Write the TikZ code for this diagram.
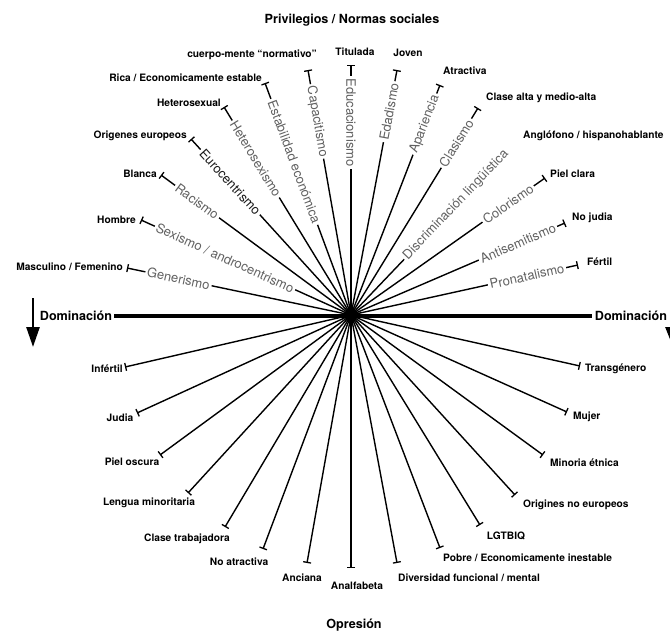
\documentclass[tikz,border=0pt]{standalone}
\usepackage{fontspec}
\setmainfont{TeX Gyre Heros}
\usetikzlibrary{arrows.meta}
\tikzset{
  spoke/.style={line width=1.4pt, black, -{Bar[width=8pt,line width=1.3pt]}},
  plainspoke/.style={line width=1.4pt, black},
  spoketext/.style={fill=white, inner sep=2pt, text=black!62, font=\fontsize{13}{14}\selectfont},
  lab/.style={inner sep=0pt, font=\bfseries\fontsize{10.2}{12}\selectfont},
  big/.style={inner sep=3pt, font=\bfseries\fontsize{12.6}{14}\selectfont},
}
\begin{document}
\begin{tikzpicture}[x=1pt,y=-1pt]
\useasboundingbox (0,0) rectangle (670,634);
\coordinate (c) at (351,315);
% titles
\node[big] (title) at (352,20) {Privilegios / Normas sociales};
\node[big] (opr) at (354,625) {Opresión};
\node[big, inner sep=2pt] (domL) at (76,316) {Dominación};
\node[big, inner sep=3pt] (domR) at (631,316) {Dominación};
\draw[line width=4pt] (domL) -- (domR);
\coordinate (aL1) at (33,298);
\coordinate (aL2) at (33,347);
\draw[line width=2.6pt, -{Triangle[width=13pt,length=20pt]}] (aL1) -- (aL2);
\coordinate (aR1) at (673,326);
\coordinate (aR2) at (673,347);
\draw[line width=2.6pt, -{Triangle[width=15pt,length=20pt]}] (aR1) -- (aR2);
% upper endpoints
\coordinate (u1) at (127,268);
\coordinate (u2) at (141,220);
\coordinate (u3) at (161,175);
\coordinate (u4) at (191,139);
\coordinate (u5) at (224,107);
\coordinate (u6) at (265,83);
\coordinate (u7) at (308,70);
\coordinate (u8) at (351,65);
\coordinate (u9) at (397,70);
\coordinate (u10) at (440,85);
\coordinate (u11) at (478,108);
\coordinate (u13) at (545,178);
\coordinate (u14) at (565,223);
\coordinate (u15) at (578,265);
% lower endpoints
\coordinate (l1) at (125,367);
\coordinate (l2) at (137,413);
\coordinate (l3) at (160,455);
\coordinate (l4) at (188,493);
\coordinate (l5) at (225,527);
\coordinate (l6) at (263,549);
\coordinate (l7) at (307,563);
\coordinate (l8) at (351,568);
\coordinate (l9) at (397,563);
\coordinate (l10) at (440,548);
\coordinate (l11) at (480,525);
\coordinate (l12) at (515,495);
\coordinate (l13) at (543,455);
\coordinate (l14) at (567,412);
\coordinate (l15) at (580,366);
% lower spokes
\foreach \i in {1,...,15} {\draw[spoke] (c) -- (l\i);}
% upper spokes with texts
\draw[spoke] (c) -- node[spoketext, pos=.77, sloped] (t1) {Generismo} (u1);
\draw[spoke] (c) -- node[spoketext, pos=.60, sloped] (t2) {Sexismo / androcentrismo} (u2);
\draw[spoke] (c) -- node[spoketext, pos=.81, sloped] (t3) {Racismo} (u3);
\draw[spoke] (c) -- node[spoketext, pos=.755, sloped, text=black!90] (t4) {Eurocentrismo} (u4);
\draw[spoke] (c) -- node[spoketext, pos=.75, sloped] (t5) {Heterosexismo} (u5);
\draw[spoke] (c) -- node[spoketext, pos=.66, sloped] (t6) {Estabilidad económica} (u6);
\draw[spoke] (c) -- node[spoketext, pos=.79, sloped] (t7) {Capacitismo} (u7);
\draw[spoke] (c) -- node[spoketext, pos=.77, rotate=-90] (t8) {Educacionismo} (u8);
\draw[spoke] (c) -- node[spoketext, pos=.83, sloped] (t9) {Edadismo} (u9);
\draw[spoke] (c) -- node[spoketext, pos=.83, sloped] (t10) {Apariencia} (u10);
\draw[spoke] (c) -- node[spoketext, pos=.83, sloped] (t11) {Clasismo} (u11);
\node[spoketext, rotate=46.3] (t12) at (456,205) {Discriminación lingüística};
\draw[plainspoke] (c) -- (t12);
\draw[spoke] (c) -- node[spoketext, pos=.81, sloped] (t13) {Colorismo} (u13);
\draw[spoke] (c) -- node[spoketext, pos=.78, sloped] (t14) {Antisemitismo} (u14);
\draw[spoke] (c) -- node[spoketext, pos=.775, sloped] (t15) {Pronatalismo} (u15);
% centre blob
\fill (351,303) -- (355,311) -- (363,315) -- (355,319) -- (351,327) -- (347,319) -- (339,315) -- (347,311) -- cycle;
\fill (c) circle (5);
% upper labels
\node[lab, anchor=east] (p1) at (123,267) {Masculino / Femenino};
\node[lab, anchor=east] (p2) at (136,220) {Hombre};
\node[lab, anchor=east] (p3) at (157,174) {Blanca};
\node[lab, anchor=east] (p4) at (187,136) {Origenes europeos};
\node[lab, anchor=east] (p5) at (221,103) {Heterosexual};
\node[lab, anchor=east] (p6) at (262,78) {Rica / Economicamente estable};
\node[lab, anchor=east] (p7) at (317,55) {cuerpo-mente “normativo”};
\node[lab] (p8) at (355,52) {Titulada};
\node[lab] (p9) at (408,53) {Joven};
\node[lab, anchor=west] (p10) at (443,71) {Atractiva};
\node[lab, anchor=west] (p11) at (486,98) {Clase alta y medio-alta};
\node[lab, anchor=west] (p12) at (523,136) {Anglófono / hispanohablante};
\node[lab, anchor=west] (p13) at (550,174) {Piel clara};
\node[lab, anchor=west] (p14) at (572,218) {No judia};
\node[lab, anchor=west] (p15) at (587,262) {Fértil};
% lower labels
\node[lab, anchor=east] (o1) at (123,369) {Infértil};
\node[lab] (o2) at (120,418) {Judia};
\node[lab] (o3) at (132,462) {Piel oscura};
\node[lab] (o4) at (149,503) {Lengua minoritaria};
\node[lab] (o5) at (187,539) {Clase trabajadora};
\node[lab] (o6) at (239,562) {No atractiva};
\node[lab] (o7) at (302,578) {Anciana};
\node[lab] (o8) at (357,586) {Analfabeta};
\node[lab, anchor=west] (o9) at (398,578) {Diversidad funcional / mental};
\node[lab, anchor=west] (o10) at (443,558) {Pobre / Economicamente inestable};
\node[lab] (o11) at (506,536) {LGTBIQ};
\node[lab, anchor=west] (o12) at (523,505) {Origines no europeos};
\node[lab, anchor=west] (o13) at (550,463) {Minoria étnica};
\node[lab, anchor=west] (o14) at (573,417) {Mujer};
\node[lab, anchor=west] (o15) at (585,369) {Transgénero};
\end{tikzpicture}
\end{document}
